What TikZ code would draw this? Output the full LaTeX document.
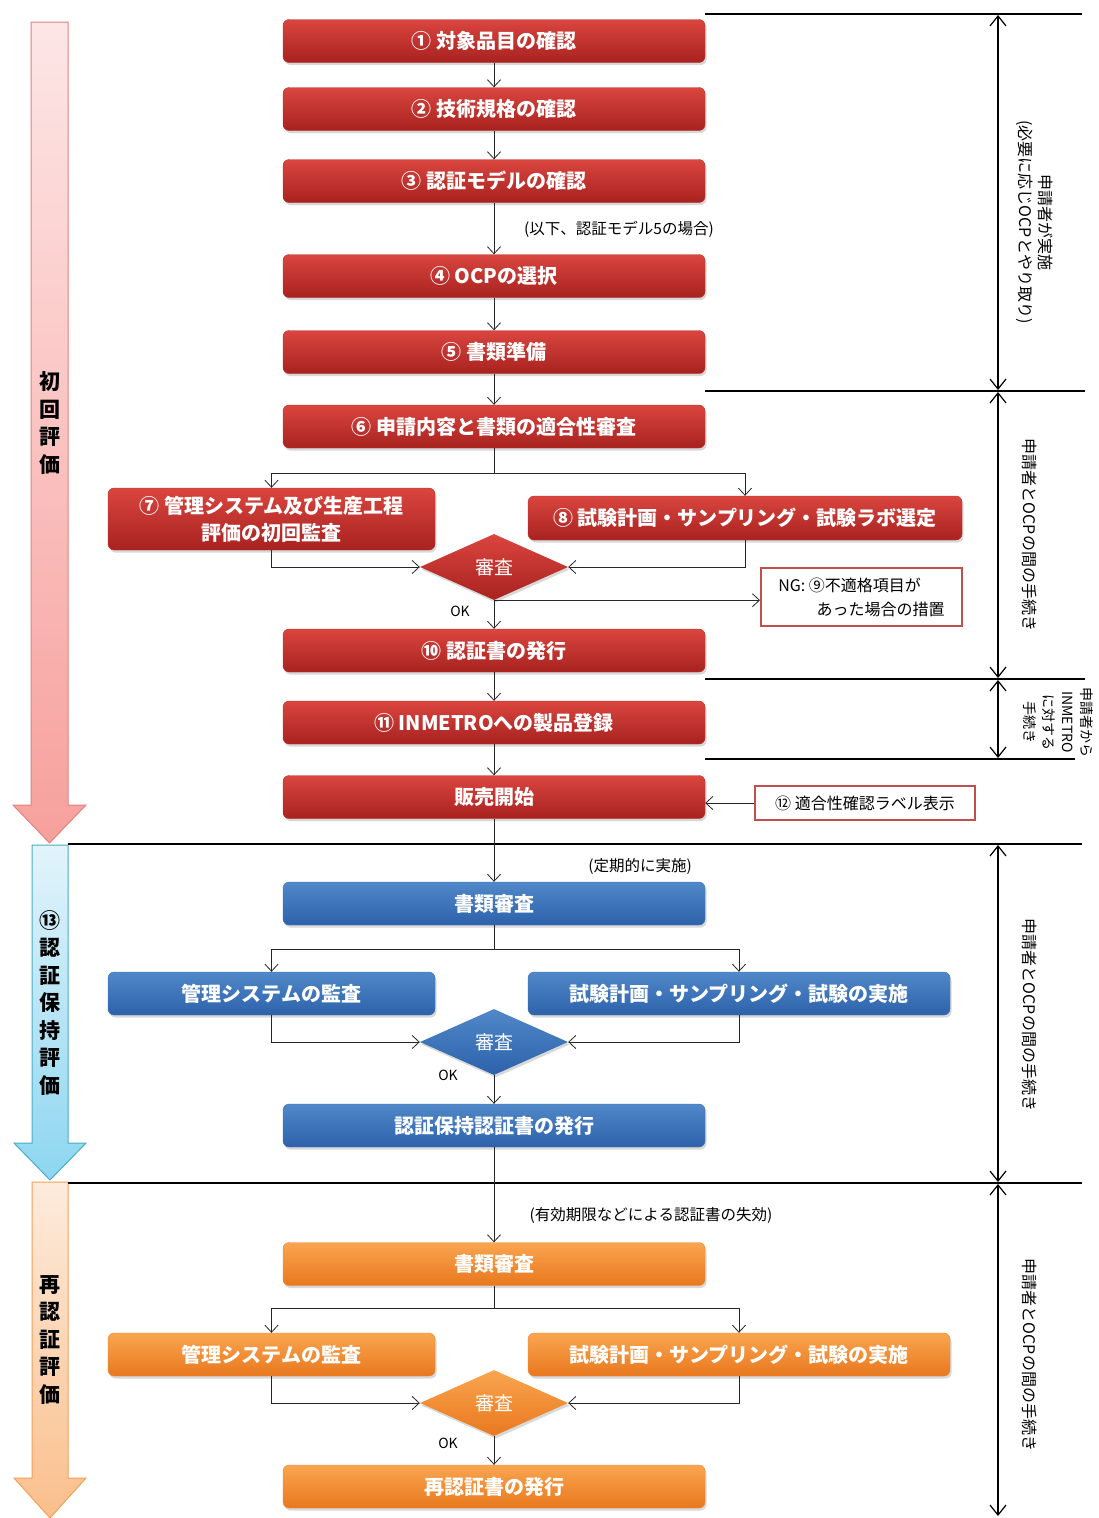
\documentclass[tikz,border=0pt]{standalone}
\usepackage{fontspec}
\setmainfont{Noto Sans CJK JP}
\usetikzlibrary{shapes.geometric,arrows.meta,shadows,calc}
\definecolor{rtop}{HTML}{DA453F}
\definecolor{rbot}{HTML}{A8221F}
\definecolor{rdraw}{HTML}{B83330}
\definecolor{btop}{HTML}{5088C8}
\definecolor{bbot}{HTML}{2D62AB}
\definecolor{bdraw}{HTML}{3E73B8}
\definecolor{otop}{HTML}{FAA550}
\definecolor{obot}{HTML}{E8781E}
\definecolor{odraw}{HTML}{EE8A35}
\definecolor{ngred}{HTML}{C0504D}
\definecolor{ratop}{HTML}{FDE6E6}
\definecolor{rabot}{HTML}{F7A09C}
\definecolor{radraw}{HTML}{E3827F}
\definecolor{batop}{HTML}{E2F4FB}
\definecolor{babot}{HTML}{8DD6F0}
\definecolor{badraw}{HTML}{4BACC6}
\definecolor{oatop}{HTML}{FDEBDC}
\definecolor{oabot}{HTML}{FABF8C}
\definecolor{oadraw}{HTML}{F5A05A}
\tikzset{
  box/.style={rounded corners=6pt, minimum height=43pt, inner sep=2pt, text=white,
    font=\fontsize{20}{27}\selectfont\bfseries, align=center,
    drop shadow={opacity=0.3, shadow xshift=1.5pt, shadow yshift=-2.5pt}},
  rbox/.style={box, top color=rtop, bottom color=rbot, draw=rdraw},
  bbox/.style={box, top color=btop, bottom color=bbot, draw=bdraw},
  obox/.style={box, top color=otop, bottom color=obot, draw=odraw},
  wide/.style={minimum width=422pt},
  side/.style={minimum width=327pt},
  dia/.style={diamond, aspect=2.2, minimum width=148pt, minimum height=66pt, inner sep=0pt,
    text=white, font=\fontsize{19}{19}\selectfont,
    drop shadow={opacity=0.3, shadow xshift=1.5pt, shadow yshift=-2.5pt}},
  wbox/.style={draw=ngred, line width=2pt, fill=white, inner sep=3pt,
    font=\fontsize{16}{24}\selectfont},
  note/.style={font=\fontsize{15.5}{18}\selectfont, inner sep=0pt},
  oklab/.style={font=\fontsize{14}{14}\selectfont, inner sep=0pt},
  vtext/.style={rotate=-90, align=center, font=\fontsize{16}{20}\selectfont, inner sep=0pt},
  atext/.style={align=center, font=\fontsize{21}{27.5}\selectfont\bfseries, inner sep=0pt},
  conn/.style={draw=black!85, line width=0.8pt},
  arr/.style={conn, -{Straight Barb[length=7pt,width=13pt]}},
  dbl/.style={line width=1.2pt, {Straight Barb[length=10pt,width=16pt]}-{Straight Barb[length=10pt,width=16pt]}},
  sep/.style={line width=1.2pt}
}
\begin{document}
\begin{tikzpicture}[x=1pt,y=-1pt]
\useasboundingbox (0,0) rectangle (1098,1518);
\fill[white] (0,0) rectangle (1098,1518);

% left big arrows
\path[draw=radraw, line width=1pt, top color=ratop, bottom color=rabot]
  (31,22) -- (68,22) -- (68,805) -- (86,805) -- (49.5,843) -- (13,805) -- (31,805) -- cycle;
\path[draw=badraw, line width=1pt, top color=batop, bottom color=babot]
  (32,845) -- (68,845) -- (68,1143) -- (86,1143) -- (50,1180) -- (14,1143) -- (32,1143) -- cycle;
\path[draw=oadraw, line width=1pt, top color=oatop, bottom color=oabot]
  (32,1182) -- (68,1182) -- (68,1478) -- (86,1478) -- (50,1518) -- (14,1478) -- (32,1478) -- cycle;
\node[atext] (a1) at (49.5,423) {初\\回\\評\\価};
\node[atext] (a2) at (50,1003) {⑬\\認\\証\\保\\持\\評\\価};
\node[atext] (a3) at (50,1340) {再\\認\\証\\評\\価};

% separators
\draw[sep] (705,14) -- (1082,14);
\draw[sep] (705,391) -- (1085,391);
\draw[sep] (705,679) -- (1085,679);
\draw[sep] (705,759) -- (1075,759);
\draw[sep] (68,844) -- (1082,844);
\draw[sep] (68,1183) -- (1082,1183);
\draw[dbl] (998,15) -- (998,390);
\draw[dbl] (998,392) -- (998,678);
\draw[dbl] (998,680) -- (998,758);
\draw[dbl] (998,845) -- (998,1182);
\draw[dbl] (998,1184) -- (998,1516);

% right texts
\node[vtext] (t1) at (1035,222) {申請者が実施\\(必要に応じOCPとやり取り)};
\node[vtext] (t2) at (1030,535) {申請者とOCPの間の手続き};
\node[vtext, font=\fontsize{14}{19}\selectfont] (t3) at (1058,722) {申請者から\\INMETRO\\に対する\\手続き};
\node[vtext] (t4) at (1030,1015) {申請者とOCPの間の手続き};
\node[vtext] (t5) at (1030,1355) {申請者とOCPの間の手続き};

% red section
\node[rbox, wide] (b1) at (494,41) {① 対象品目の確認};
\node[rbox, wide] (b2) at (494,109) {② 技術規格の確認};
\node[rbox, wide] (b3) at (494,181) {③ 認証モデルの確認};
\node[note] (n0) at (619,229) {(以下、認証モデル5の場合)};
\node[rbox, wide] (b4) at (494,276) {④ OCPの選択};
\node[rbox, wide] (b5) at (494,352) {⑤ 書類準備};
\node[rbox, wide] (b6) at (494,426.5) {⑥ 申請内容と書類の適合性審査};
\node[rbox, side, minimum height=62pt] (b7) at (271.5,519) {⑦ 管理システム及び生産工程\\評価の初回監査};
\node[rbox, minimum width=434pt, minimum height=44pt] (b8) at (745,518) {⑧ 試験計画・サンプリング・試験ラボ選定};
\node[dia, top color=rtop, bottom color=rbot] (d1) at (494,567) {審査};
\node[oklab] (ok1) at (460,611) {OK};
\node[wbox, minimum width=201pt, minimum height=58pt, align=left] (ng) at (861.5,597) {NG: ⑨不適格項目が\\\hspace*{2.4em}あった場合の措置};
\node[rbox, wide] (b10) at (494,650.5) {⑩ 認証書の発行};
\node[rbox, wide] (b11) at (494,722.5) {⑪ INMETROへの製品登録};
\node[rbox, wide] (sale) at (494,797) {販売開始};
\node[wbox, minimum width=220pt, minimum height=34pt] (lab) at (865,803) {⑫ 適合性確認ラベル表示};

\draw[arr] (b1) -- (b2);
\draw[arr] (b2) -- (b3);
\draw[arr] (b3) -- (b4);
\draw[arr] (b4) -- (b5);
\draw[arr] (b5) -- (b6);
\draw[conn] (b6.south) -- ++(0,25) coordinate (j1);
\draw[arr] (j1) -| (b7.north);
\draw[arr] (j1) -| (b8.north);
\draw[arr] (b7.south) |- (d1.west);
\draw[arr] (b8.south) |- (d1.east);
\draw[arr] (d1.south) -- (b10.north);
\draw[arr] (d1.south) -- (d1.south -| ng.west);
\draw[arr] (b10) -- (b11);
\draw[arr] (b11) -- (sale);
\draw[arr] (lab.west) -- (lab.west -| sale.east);

% blue section
\node[note] (n1) at (640,866) {(定期的に実施)};
\node[bbox, wide] (c1) at (494,903.5) {書類審査};
\node[bbox, side] (c2) at (271.5,993.5) {管理システムの監査};
\node[bbox, wide] (c3) at (739,993.5) {試験計画・サンプリング・試験の実施};
\node[dia, top color=btop, bottom color=bbot] (d2) at (494,1042) {審査};
\node[oklab] (ok2) at (448,1075) {OK};
\node[bbox, wide] (c4) at (494,1125.5) {認証保持認証書の発行};

\draw[arr] (sale) -- (c1);
\draw[conn] (c1.south) -- ++(0,24) coordinate (j2);
\draw[arr] (j2) -| (c2.north);
\draw[arr] (j2) -| (c3.north);
\draw[arr] (c2.south) |- (d2.west);
\draw[arr] (c3.south) |- (d2.east);
\draw[arr] (d2.south) -- (c4.north);

% orange section
\node[note] (n2) at (651,1215) {(有効期限などによる認証書の失効)};
\node[obox, wide] (o1) at (494,1264) {書類審査};
\node[obox, side] (o2) at (271.5,1354.5) {管理システムの監査};
\node[obox, wide] (o3) at (739,1354.5) {試験計画・サンプリング・試験の実施};
\node[dia, top color=otop, bottom color=obot] (d3) at (494,1403) {審査};
\node[oklab] (ok3) at (448,1443) {OK};
\node[obox, wide] (o4) at (494,1486.5) {再認証書の発行};

\draw[arr] (c4) -- (o1);
\draw[conn] (o1.south) -- ++(0,23) coordinate (j3);
\draw[arr] (j3) -| (o2.north);
\draw[arr] (j3) -| (o3.north);
\draw[arr] (o2.south) |- (d3.west);
\draw[arr] (o3.south) |- (d3.east);
\draw[arr] (d3.south) -- (o4.north);
\end{tikzpicture}
\end{document}
